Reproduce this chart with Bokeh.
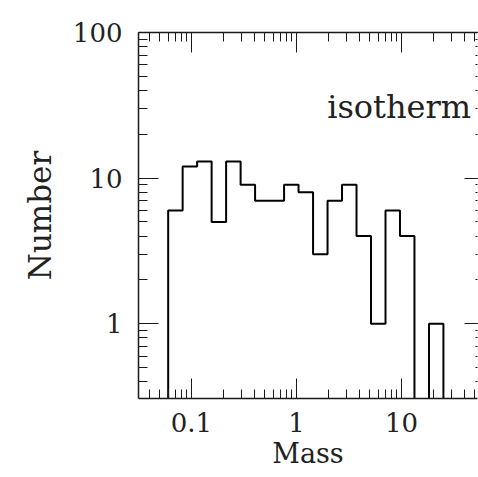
from bokeh.plotting import figure
from bokeh.models import LogAxis, Range1d, LogTicker, CustomJSTickFormatter
from bokeh.core.properties import value
from bokeh.embed import file_html
from bokeh.resources import INLINE

# ---- data ----
bin_edges = [0.0600, 0.0824, 0.1132, 0.1556, 0.2138, 0.2938, 0.4036, 0.5546,
             0.762, 1.047, 1.439, 1.977, 2.716, 3.733, 5.13, 7.05, 9.68,
             13.3, 18.3, 25.1]
counts = [6, 12, 13, 5, 13, 9, 7, 7, 9, 8, 3, 7, 9, 4, 1, 6, 4, 0, 1]
label_text = "isotherm"
x_title = "Mass"
y_title = "Number"

FLOOR = 0.05  # zero counts drop below the visible range on the log axis

# build the histogram outline (step path) from edges and counts
xs, ys = [bin_edges[0]], [FLOOR]
for i, c in enumerate(counts):
    h = c if c > 0 else FLOOR
    xs += [bin_edges[i], bin_edges[i + 1]]
    ys += [h, h]
xs.append(bin_edges[-1])
ys.append(FLOOR)

FONT = "DejaVu Serif"
INK = "#1a1a1a"

p = figure(width=478, height=477, x_axis_type="log", y_axis_type="log",
           x_range=Range1d(0.0313, 53.0), y_range=Range1d(0.307, 100.0),
           output_backend="svg", toolbar_location=None,
           min_border_left=138, min_border_top=32, min_border_bottom=79,
           min_border_right=1)
p.background_fill_color = "white"
p.border_fill_color = "white"
p.outline_line_color = None
p.xgrid.visible = False
p.ygrid.visible = False

bottom = p.below[0]
left = p.left[0]

fmt = CustomJSTickFormatter(code="return Number(tick.toPrecision(6)).toString();")

top = LogAxis()
right = LogAxis()
p.add_layout(top, "above")
p.add_layout(right, "right")

for ax in [bottom, left, top, right]:
    ax.ticker = LogTicker(num_minor_ticks=10)
    ax.major_tick_out = 0
    ax.minor_tick_out = 0
    ax.major_tick_in = 20
    ax.minor_tick_in = 9
    ax.major_tick_line_color = INK
    ax.minor_tick_line_color = INK
    ax.major_tick_line_width = 1
    ax.minor_tick_line_width = 1
    ax.axis_line_color = INK
    ax.axis_line_width = 1.5
    ax.formatter = fmt
    ax.major_label_text_font = FONT
    ax.major_label_text_font_size = "26px"
    ax.major_label_text_color = "#222222"
    ax.major_label_standoff = 16
    ax.axis_label_text_font = FONT
    ax.axis_label_text_font_style = "normal"
    ax.axis_label_text_color = "#222222"

for ax in [top, right]:
    ax.major_label_text_font_size = "0px"
    ax.major_label_standoff = 0

# right axis lies just beyond the visible picture: only tick stubs show
right.axis_line_color = None
right.major_tick_in = 13
right.minor_tick_in = 2

bottom.major_label_standoff = 14
bottom.axis_label = x_title
bottom.axis_label_text_font_size = "27px"
bottom.axis_label_standoff = 3
left.axis_label = y_title
left.axis_label_text_font_size = "31px"
left.axis_label_standoff = 12

p.line(xs, ys, line_color="black", line_width=2)

p.text(x=[1.96], y=[31.0], text=[label_text], text_font=value(FONT),
       text_font_size="32px", text_baseline="middle", text_align="left",
       text_color="#222222")

open("out.html", "w").write(file_html(p, INLINE))
